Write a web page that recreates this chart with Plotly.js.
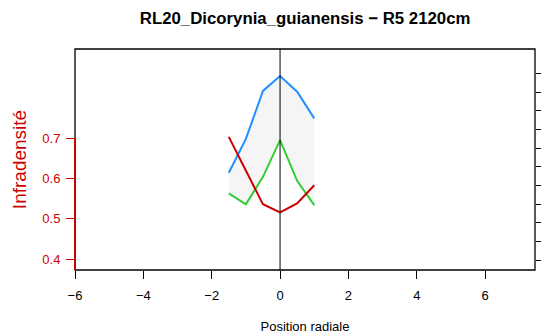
<!DOCTYPE html>
<html>
<head>
<meta charset="utf-8">
<script src="https://cdn.plot.ly/plotly-3.0.1.min.js"></script>
<style>html,body{margin:0;padding:0;background:#fff;}#chart{width:541px;height:336px;}</style>
</head>
<body>
<div id="chart"></div>
<script>
const positions = [-1.5, -1, -0.5, 0, 0.5, 1];
const upperBlue = [0.614, 0.698, 0.817, 0.854, 0.815, 0.749];
const lowerGreen = [0.563, 0.536, 0.604, 0.695, 0.594, 0.534];
const redSeries = [0.703, 0.620, 0.536, 0.516, 0.538, 0.583];
const xTicks = [-6, -4, -2, 0, 2, 4, 6];
const yTicks = [0.4, 0.5, 0.6, 0.7];
const rightTicks = [0,1,2,3,4,5,6,7,8,9,10];

const yMin = 0.373, yMax = 0.921;

const traces = [
  {x: positions, y: lowerGreen, mode: 'lines', line: {color: '#32CD32', width: 2}, hoverinfo: 'skip'},
  {x: positions, y: upperBlue, mode: 'lines', fill: 'tonexty', fillcolor: '#f5f5f5', line: {color: '#1E90FF', width: 2}, hoverinfo: 'skip'},
  {x: positions, y: redSeries, mode: 'lines', line: {color: '#CD0000', width: 2}, hoverinfo: 'skip'},
  {x: [], y: [], yaxis: 'y2', mode: 'lines', hoverinfo: 'skip'}
];

const layout = {
  width: 541, height: 336,
  margin: {l: 75, r: 6, t: 49, b: 66},
  paper_bgcolor: '#fff', plot_bgcolor: '#fff',
  showlegend: false,
  font: {family: 'Liberation Sans, Arial, sans-serif', size: 13, color: '#000'},
  title: {text: '<b>RL20_Dicorynia_guianensis − R5 2120cm</b>', x: 0.564, xanchor: 'center', y: 0.945, yanchor: 'middle', font: {size: 16.8, color: '#000'}},
  xaxis: {
    range: [-6, 7.46], tickvals: xTicks, ticktext: xTicks.map(v => v < 0 ? '−' + Math.abs(v) : String(v)),
    ticks: 'outside', ticklen: 8, tickcolor: '#000', showgrid: false, zeroline: false, showline: false,
    tickfont: {size: 13, color: '#000'}, ticklabelstandoff: 5,
    title: {text: 'Position radiale', font: {size: 13, color: '#000'}, standoff: 20}
  },
  yaxis: {
    range: [yMin, yMax], tickvals: yTicks, ticktext: yTicks.map(v => v.toFixed(1)),
    ticks: 'outside', ticklen: 8, tickcolor: '#CD0000', showgrid: false, zeroline: false, showline: false,
    tickfont: {size: 13, color: '#CD0000'}, ticklabelstandoff: 3,
    title: {text: 'Infradensité', font: {size: 19, color: '#CD0000'}, standoff: 10}
  },
  yaxis2: {
    overlaying: 'y', side: 'right', range: [-0.52, 11.3], tickvals: rightTicks, showticklabels: false,
    ticks: 'outside', ticklen: 6, tickcolor: '#000', showgrid: false, zeroline: false, showline: false
  },
  shapes: [
    {type: 'rect', xref: 'paper', yref: 'paper', x0: 0, x1: 1, y0: 0, y1: 1, line: {color: '#000', width: 1.3}},
    {type: 'line', xref: 'x', yref: 'paper', x0: 0, x1: 0, y0: 0, y1: 1, line: {color: '#000', width: 1}},
    {type: 'line', xref: 'paper', yref: 'y', x0: 0, x1: 0, y0: 0.7, y1: yMin, line: {color: '#CD0000', width: 2}}
  ]
};

Plotly.newPlot('chart', traces, layout, {displayModeBar: false, staticPlot: true});
</script>
</body>
</html>
